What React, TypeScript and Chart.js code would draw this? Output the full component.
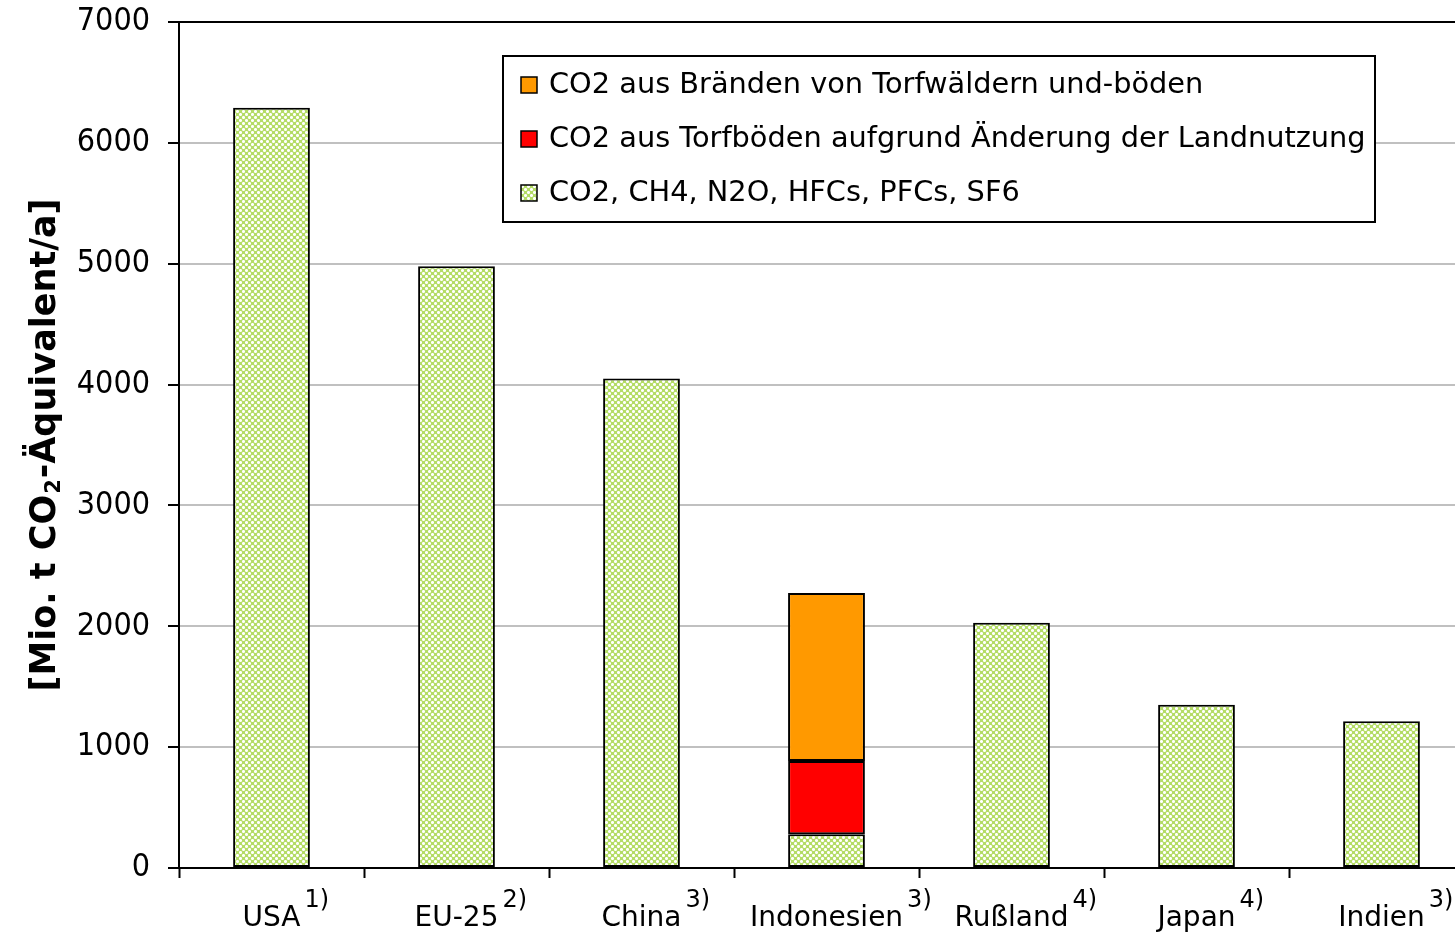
import React, { useEffect, useRef } from 'react';
import { Chart, registerables } from 'chart.js';

Chart.register(...registerables);

const categories = ['USA', 'EU-25', 'China', 'Indonesien', 'Rußland', 'Japan', 'Indien'];
const footnotes = ['1)', '2)', '3)', '3)', '4)', '4)', '3)'];
const ghgValues = [6290, 4980, 4050, 280, 2030, 1350, 1215];
const peatLandUseValues = [null, null, null, 605, null, null, null];
const peatFireValues = [null, null, null, 1390, null, null, null];
const yMin = 0;
const yMax = 7000;
const yStep = 1000;
const seriesNames = [
  'CO2, CH4, N2O, HFCs, PFCs, SF6',
  'CO2 aus Torfböden aufgrund Änderung der Landnutzung',
  'CO2 aus Bränden von Torfwäldern und-böden',
];
const yTitleParts = ['[Mio. t CO', '2', '-Äquivalent/a]'];

const W = 1480;
const H = 932;
const FONT = "'DejaVu Sans', 'Liberation Sans', sans-serif";
const TICK_FONT = "'DejaVu Sans Condensed', 'Liberation Sans', sans-serif";

function makePattern(): CanvasPattern | string {
  const c = document.createElement('canvas');
  c.width = 6;
  c.height = 6;
  const g = c.getContext('2d');
  if (!g) return '#c8e690';
  g.fillStyle = '#b4dc66';
  g.fillRect(0, 0, 6, 6);
  g.fillStyle = '#ffffff';
  const white = [
    [3, 2], [2, 3], [3, 3], [4, 3], [3, 4],
    [0, 0], [1, 0], [5, 0], [0, 1], [0, 5],
  ];
  white.forEach(([x, y]) => g.fillRect(x, y, 1, 1));
  g.fillStyle = '#e4f3c4';
  [[1, 1], [5, 5], [1, 5], [5, 1], [2, 2], [4, 4], [2, 4], [4, 2]].forEach(([x, y]) => g.fillRect(x, y, 1, 1));
  const p = g.createPattern(c, 'repeat');
  return p || '#c8e690';
}

export default function App() {
  const ref = useRef<HTMLCanvasElement | null>(null);

  useEffect(() => {
    const canvas = ref.current;
    if (!canvas) return;
    const pattern = makePattern();
    const colors = [pattern, '#ff0000', '#ff9900'];

    const overlay = {
      id: 'overlay',
      afterDraw(chart: any) {
        const ctx = chart.ctx as CanvasRenderingContext2D;
        const xScale = chart.scales.x;
        ctx.save();
        ctx.fillStyle = '#000';
        categories.forEach((lab, i) => {
          const x = xScale.getPixelForValue(i);
          ctx.font = `28px ${FONT}`;
          ctx.textAlign = 'center';
          ctx.textBaseline = 'alphabetic';
          const w = ctx.measureText(lab).width;
          ctx.fillText(lab, x, 926);
          ctx.font = `24px ${FONT}`;
          ctx.textAlign = 'left';
          ctx.fillText(footnotes[i], x + w / 2 + 4, 907);
        });

        ctx.save();
        ctx.translate(55, 446);
        ctx.rotate(-Math.PI / 2);
        const big = `bold 35px ${FONT}`;
        const small = `bold 21px ${FONT}`;
        ctx.font = big;
        const w1 = ctx.measureText(yTitleParts[0]).width;
        const w3 = ctx.measureText(yTitleParts[2]).width;
        ctx.font = small;
        const w2 = ctx.measureText(yTitleParts[1]).width;
        const x0 = -(w1 + w2 + w3) / 2;
        ctx.textAlign = 'left';
        ctx.textBaseline = 'alphabetic';
        ctx.font = big;
        ctx.fillText(yTitleParts[0], x0, 0);
        ctx.font = small;
        ctx.fillText(yTitleParts[1], x0 + w1 + 1, 5);
        ctx.font = big;
        ctx.fillText(yTitleParts[2], x0 + w1 + w2 + 2, 0);
        ctx.restore();

        const lx = 503, ly = 56, lw = 872, lh = 166;
        ctx.fillStyle = '#fff';
        ctx.fillRect(lx, ly, lw, lh);
        ctx.strokeStyle = '#000';
        ctx.lineWidth = 2;
        ctx.strokeRect(lx, ly, lw, lh);
        const rows = [2, 1, 0];
        rows.forEach((di, r) => {
          const cy = 85 + r * 54;
          ctx.fillStyle = colors[di] as any;
          ctx.fillRect(521, cy - 8, 16, 16);
          ctx.lineWidth = 1.5;
          ctx.strokeStyle = '#000';
          ctx.strokeRect(521, cy - 8, 16, 16);
          ctx.fillStyle = '#000';
          ctx.font = `28.8px ${FONT}`;
          ctx.textAlign = 'left';
          ctx.textBaseline = 'middle';
          ctx.fillText(seriesNames[di], 549, cy + 1);
        });
        ctx.restore();
      },
    };

    const chart = new Chart(canvas, {
      type: 'bar',
      data: {
        labels: categories,
        datasets: [
          { label: seriesNames[0], data: ghgValues, backgroundColor: pattern as any },
          { label: seriesNames[1], data: peatLandUseValues as any, backgroundColor: colors[1] as any },
          { label: seriesNames[2], data: peatFireValues as any, backgroundColor: colors[2] as any },
        ].map((d) => ({
          ...d,
          borderColor: '#000',
          borderWidth: 2,
          borderSkipped: false,
          barPercentage: 0.415,
          categoryPercentage: 1,
        })),
      },
      options: {
        responsive: false,
        animation: false,
        devicePixelRatio: 1,
        layout: { padding: { top: 22, right: 6, left: 0, bottom: 0 } },
        plugins: {
          legend: { display: false },
          tooltip: { enabled: false },
          title: { display: false },
        },
        scales: {
          x: {
            type: 'category',
            stacked: true,
            offset: true,
            grid: {
              offset: true,
              drawOnChartArea: false,
              drawTicks: true,
              tickLength: 10,
              tickColor: '#000',
              tickWidth: 2,
            },
            border: { color: '#000', width: 2 },
            ticks: { display: false },
            afterFit: (s: any) => {
              s.height = H - 868;
              s.paddingLeft = 0;
              s.paddingRight = 0;
            },
          },
          y: {
            stacked: true,
            min: yMin,
            max: yMax,
            ticks: {
              stepSize: yStep,
              color: '#000',
              padding: 18,
              font: { family: TICK_FONT, size: 32 },
              callback: (v: any) => String(v),
            },
            grid: {
              color: (c: any) => (c.tick && (c.tick.value === yMax || c.tick.value === yMin) ? '#000' : '#c0c0c0'),
              lineWidth: 2,
              tickLength: 11,
              tickColor: '#000',
              tickWidth: 2,
            },
            border: { color: '#000', width: 2 },
            afterFit: (s: any) => {
              s.width = 179;
              s.paddingTop = 0;
              s.paddingBottom = 0;
            },
          },
        },
      },
      plugins: [overlay],
    });
    return () => chart.destroy();
  }, []);

  return (
    <div style={{ position: 'fixed', left: 0, top: 0, width: 1455, height: 932, overflow: 'hidden', background: '#fff' }}>
      <canvas ref={ref} width={W} height={H} style={{ width: W, height: H, display: 'block' }} />
    </div>
  );
}
